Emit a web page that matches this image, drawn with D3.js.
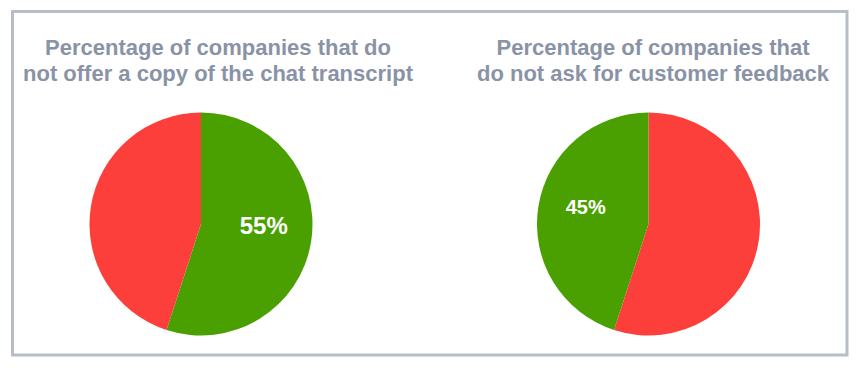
<!DOCTYPE html>
<html>
<head>
<meta charset="utf-8">
<script src="https://cdn.jsdelivr.net/npm/d3@7"></script>
<style>
  html, body { margin: 0; padding: 0; background: #ffffff; }
  svg { display: block; }
</style>
</head>
<body>
<svg id="chart" width="864" height="370"></svg>
<script>
// ---- data ----
const categories = ["Yes", "No"];
const leftTitle = ["Percentage of companies that do", "not offer a copy of the chat transcript"];
const rightTitle = ["Percentage of companies that", "do not ask for customer feedback"];
// left pie: green share then red share (clockwise from 12 o'clock)
const leftValues = [55, 45];
const leftColors = ["#4aa000", "#fd3f3c"];
const leftLabels = ["55%", null];
// right pie: red share then green share
const rightValues = [55, 45];
const rightColors = ["#fd3f3c", "#4aa000"];
const rightLabels = [null, "45%"];

const svg = d3.select("#chart");

svg.append("rect")
  .attr("x", 12.5).attr("y", 11.5)
  .attr("width", 834.5).attr("height", 343.5)
  .attr("fill", "#ffffff")
  .attr("stroke", "#b9bdc8")
  .attr("stroke-width", 3);

const R = 111.5;
const pie = d3.pie().sort(null).value(d => d);
const arc = d3.arc().innerRadius(0).outerRadius(R);

function drawPie(cx, cy, values, colors, labels, fontSize, title, titleX) {
  const g = svg.append("g").attr("transform", `translate(${cx},${cy})`);
  const arcs = pie(values);
  g.selectAll("path").data(arcs).enter().append("path")
    .attr("d", arc)
    .attr("fill", (d, i) => colors[i]);
  const labelled = arcs.filter(d => labels[d.index]);
  g.selectAll("text.lbl").data(labelled).enter()
    .append("text")
    .attr("class", "lbl")
    .attr("x", d => { const a = (d.startAngle + d.endAngle) / 2; return Math.sin(a) * 0.57 * R; })
    .attr("y", d => { const a = (d.startAngle + d.endAngle) / 2; return -Math.cos(a) * 0.57 * R; })
    .attr("text-anchor", "middle")
    .attr("font-family", "'Liberation Sans', Arial, sans-serif")
    .attr("font-weight", "bold")
    .attr("font-size", fontSize)
    .attr("fill", "#ffffff")
    .text(d => labels[d.index]);

  const t = svg.append("text")
    .attr("text-anchor", "middle")
    .attr("font-family", "'Liberation Sans', Arial, sans-serif")
    .attr("font-weight", "bold")
    .attr("font-size", 22)
    .attr("fill", "#8a93a6");
  title.forEach((line, i) => {
    t.append("tspan").attr("x", titleX).attr("y", 55 + i * 25.5).text(line);
  });
}

drawPie(201, 224, leftValues, leftColors, leftLabels, 24, leftTitle, 218);
drawPie(648.5, 224, rightValues, rightColors, rightLabels, 20, rightTitle, 653);
</script>
</body>
</html>
